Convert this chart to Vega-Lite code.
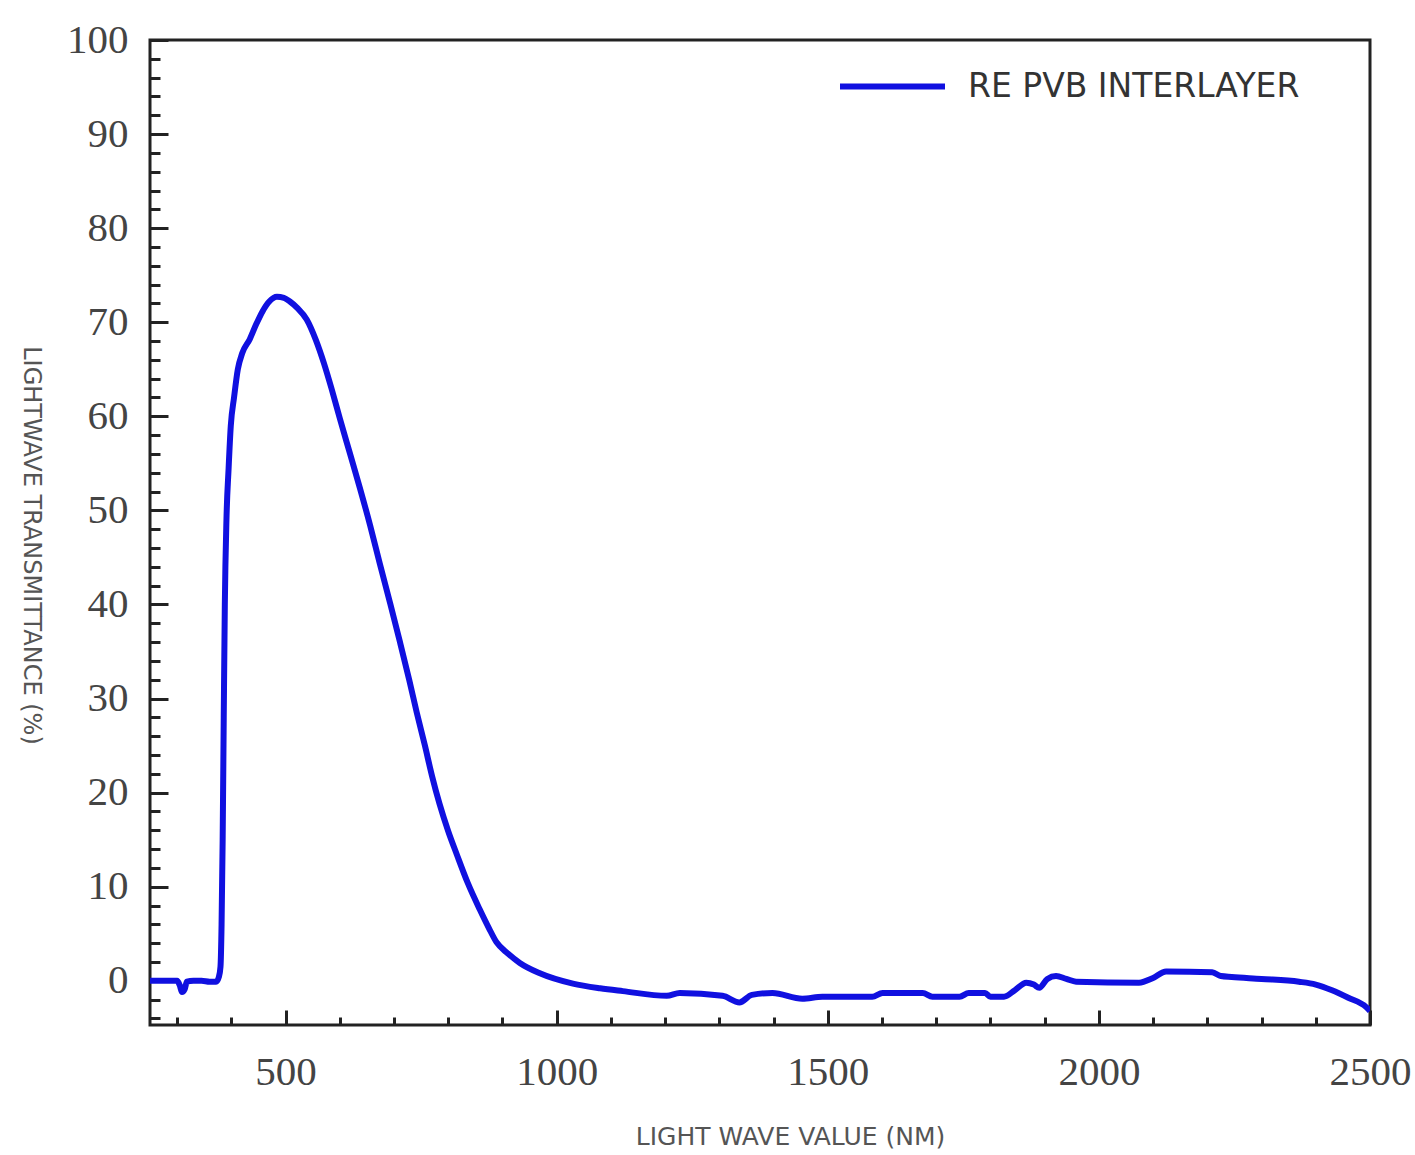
{
  "$schema": "https://vega.github.io/schema/vega-lite/v6.json",
  "autosize": "none",
  "width": 1220,
  "height": 985,
  "padding": {"left": 150, "top": 40, "right": 45, "bottom": 130},
  "background": "white",
  "config": {
    "view": {"stroke": "#222", "strokeWidth": 3},
    "axis": {"domain": false, "grid": false}
  },
  "data": {"values": [
    {"nm": 250, "t": 0, "s": "RE PVB INTERLAYER"},
    {"nm": 290, "t": 0, "s": "RE PVB INTERLAYER"},
    {"nm": 300, "t": 0, "s": "RE PVB INTERLAYER"},
    {"nm": 305, "t": -0.5, "s": "RE PVB INTERLAYER"},
    {"nm": 309, "t": -1.2, "s": "RE PVB INTERLAYER"},
    {"nm": 314, "t": -0.9, "s": "RE PVB INTERLAYER"},
    {"nm": 318, "t": -0.1, "s": "RE PVB INTERLAYER"},
    {"nm": 330, "t": 0, "s": "RE PVB INTERLAYER"},
    {"nm": 345, "t": 0, "s": "RE PVB INTERLAYER"},
    {"nm": 360, "t": -0.1, "s": "RE PVB INTERLAYER"},
    {"nm": 372, "t": -0.1, "s": "RE PVB INTERLAYER"},
    {"nm": 377, "t": 0.4, "s": "RE PVB INTERLAYER"},
    {"nm": 380, "t": 1.5, "s": "RE PVB INTERLAYER"},
    {"nm": 382, "t": 6, "s": "RE PVB INTERLAYER"},
    {"nm": 384, "t": 15, "s": "RE PVB INTERLAYER"},
    {"nm": 386, "t": 28, "s": "RE PVB INTERLAYER"},
    {"nm": 388, "t": 40, "s": "RE PVB INTERLAYER"},
    {"nm": 391, "t": 49, "s": "RE PVB INTERLAYER"},
    {"nm": 395, "t": 54.5, "s": "RE PVB INTERLAYER"},
    {"nm": 399, "t": 59, "s": "RE PVB INTERLAYER"},
    {"nm": 405, "t": 62, "s": "RE PVB INTERLAYER"},
    {"nm": 412, "t": 65, "s": "RE PVB INTERLAYER"},
    {"nm": 420, "t": 66.7, "s": "RE PVB INTERLAYER"},
    {"nm": 434, "t": 68.2, "s": "RE PVB INTERLAYER"},
    {"nm": 446, "t": 69.8, "s": "RE PVB INTERLAYER"},
    {"nm": 458, "t": 71.2, "s": "RE PVB INTERLAYER"},
    {"nm": 470, "t": 72.2, "s": "RE PVB INTERLAYER"},
    {"nm": 484, "t": 72.7, "s": "RE PVB INTERLAYER"},
    {"nm": 497, "t": 72.6, "s": "RE PVB INTERLAYER"},
    {"nm": 508, "t": 72.2, "s": "RE PVB INTERLAYER"},
    {"nm": 522, "t": 71.5, "s": "RE PVB INTERLAYER"},
    {"nm": 539, "t": 70.3, "s": "RE PVB INTERLAYER"},
    {"nm": 556, "t": 68.1, "s": "RE PVB INTERLAYER"},
    {"nm": 571, "t": 65.6, "s": "RE PVB INTERLAYER"},
    {"nm": 585, "t": 62.9, "s": "RE PVB INTERLAYER"},
    {"nm": 600, "t": 59.8, "s": "RE PVB INTERLAYER"},
    {"nm": 619, "t": 56.0, "s": "RE PVB INTERLAYER"},
    {"nm": 637, "t": 52.4, "s": "RE PVB INTERLAYER"},
    {"nm": 656, "t": 48.4, "s": "RE PVB INTERLAYER"},
    {"nm": 674, "t": 44.3, "s": "RE PVB INTERLAYER"},
    {"nm": 693, "t": 40.1, "s": "RE PVB INTERLAYER"},
    {"nm": 711, "t": 36.0, "s": "RE PVB INTERLAYER"},
    {"nm": 728, "t": 32.0, "s": "RE PVB INTERLAYER"},
    {"nm": 742, "t": 28.5, "s": "RE PVB INTERLAYER"},
    {"nm": 757, "t": 25.0, "s": "RE PVB INTERLAYER"},
    {"nm": 770, "t": 21.8, "s": "RE PVB INTERLAYER"},
    {"nm": 784, "t": 18.8, "s": "RE PVB INTERLAYER"},
    {"nm": 800, "t": 15.9, "s": "RE PVB INTERLAYER"},
    {"nm": 816, "t": 13.4, "s": "RE PVB INTERLAYER"},
    {"nm": 836, "t": 10.4, "s": "RE PVB INTERLAYER"},
    {"nm": 858, "t": 7.6, "s": "RE PVB INTERLAYER"},
    {"nm": 875, "t": 5.6, "s": "RE PVB INTERLAYER"},
    {"nm": 889, "t": 4.1, "s": "RE PVB INTERLAYER"},
    {"nm": 910, "t": 2.9, "s": "RE PVB INTERLAYER"},
    {"nm": 932, "t": 1.9, "s": "RE PVB INTERLAYER"},
    {"nm": 969, "t": 0.8, "s": "RE PVB INTERLAYER"},
    {"nm": 1030, "t": -0.3, "s": "RE PVB INTERLAYER"},
    {"nm": 1080, "t": -0.8, "s": "RE PVB INTERLAYER"},
    {"nm": 1122, "t": -1.1, "s": "RE PVB INTERLAYER"},
    {"nm": 1203, "t": -1.6, "s": "RE PVB INTERLAYER"},
    {"nm": 1227, "t": -1.3, "s": "RE PVB INTERLAYER"},
    {"nm": 1306, "t": -1.6, "s": "RE PVB INTERLAYER"},
    {"nm": 1337, "t": -2.3, "s": "RE PVB INTERLAYER"},
    {"nm": 1360, "t": -1.5, "s": "RE PVB INTERLAYER"},
    {"nm": 1398, "t": -1.3, "s": "RE PVB INTERLAYER"},
    {"nm": 1453, "t": -1.9, "s": "RE PVB INTERLAYER"},
    {"nm": 1490, "t": -1.7, "s": "RE PVB INTERLAYER"},
    {"nm": 1582, "t": -1.7, "s": "RE PVB INTERLAYER"},
    {"nm": 1601, "t": -1.3, "s": "RE PVB INTERLAYER"},
    {"nm": 1675, "t": -1.3, "s": "RE PVB INTERLAYER"},
    {"nm": 1693, "t": -1.7, "s": "RE PVB INTERLAYER"},
    {"nm": 1743, "t": -1.7, "s": "RE PVB INTERLAYER"},
    {"nm": 1760, "t": -1.3, "s": "RE PVB INTERLAYER"},
    {"nm": 1790, "t": -1.3, "s": "RE PVB INTERLAYER"},
    {"nm": 1800, "t": -1.7, "s": "RE PVB INTERLAYER"},
    {"nm": 1825, "t": -1.7, "s": "RE PVB INTERLAYER"},
    {"nm": 1845, "t": -1.0, "s": "RE PVB INTERLAYER"},
    {"nm": 1866, "t": -0.2, "s": "RE PVB INTERLAYER"},
    {"nm": 1880, "t": -0.4, "s": "RE PVB INTERLAYER"},
    {"nm": 1890, "t": -0.75, "s": "RE PVB INTERLAYER"},
    {"nm": 1905, "t": 0.2, "s": "RE PVB INTERLAYER"},
    {"nm": 1921, "t": 0.5, "s": "RE PVB INTERLAYER"},
    {"nm": 1940, "t": 0.2, "s": "RE PVB INTERLAYER"},
    {"nm": 1958, "t": -0.1, "s": "RE PVB INTERLAYER"},
    {"nm": 2074, "t": -0.2, "s": "RE PVB INTERLAYER"},
    {"nm": 2100, "t": 0.3, "s": "RE PVB INTERLAYER"},
    {"nm": 2124, "t": 1.0, "s": "RE PVB INTERLAYER"},
    {"nm": 2209, "t": 0.9, "s": "RE PVB INTERLAYER"},
    {"nm": 2225, "t": 0.5, "s": "RE PVB INTERLAYER"},
    {"nm": 2245, "t": 0.4, "s": "RE PVB INTERLAYER"},
    {"nm": 2300, "t": 0.2, "s": "RE PVB INTERLAYER"},
    {"nm": 2369, "t": -0.1, "s": "RE PVB INTERLAYER"},
    {"nm": 2400, "t": -0.4, "s": "RE PVB INTERLAYER"},
    {"nm": 2430, "t": -1.0, "s": "RE PVB INTERLAYER"},
    {"nm": 2460, "t": -1.8, "s": "RE PVB INTERLAYER"},
    {"nm": 2493, "t": -2.8, "s": "RE PVB INTERLAYER"},
    {"nm": 2500, "t": -3.2, "s": "RE PVB INTERLAYER"}
  ]},
  "mark": {"type": "line", "strokeWidth": 6, "clip": true, "interpolate": "monotone"},
  "encoding": {
    "x": {
      "field": "nm", "type": "quantitative",
      "scale": {"domain": [250, 2500], "nice": false, "zero": false},
      "axis": {
        "title": "LIGHT WAVE VALUE (NM)",
        "titleX": 640,
        "values": [300,400,500,600,700,800,900,1000,1100,1200,1300,1400,1500,1600,1700,1800,1900,2000,2100,2200,2300,2400,2500],
        "labelExpr": "datum.value % 500 === 0 ? datum.value : ''",
        "tickSize": {"condition": {"test": "datum.value % 500 === 0", "value": -15}, "value": -8},
        "tickColor": "#222", "tickWidth": 3,
        "labelPadding": 42,
        "labelFont": "Liberation Serif", "labelFontSize": 41, "labelColor": "#444",
        "labelFlush": false,
        "titleFont": "DejaVu Sans", "titleFontSize": 25, "titleFontWeight": "normal",
        "titleColor": "#555", "titlePadding": 32
      }
    },
    "y": {
      "field": "t", "type": "quantitative",
      "scale": {"domain": [-4.7, 100], "nice": false, "zero": false},
      "axis": {
        "title": "LIGHTWAVE TRANSMITTANCE (%)",
        "values": [-4,-2,0,2,4,6,8,10,12,14,16,18,20,22,24,26,28,30,32,34,36,38,40,42,44,46,48,50,52,54,56,58,60,62,64,66,68,70,72,74,76,78,80,82,84,86,88,90,92,94,96,98,100],
        "labelExpr": "datum.value % 10 === 0 ? datum.value : ''",
        "tickSize": {"condition": {"test": "datum.value % 10 === 0", "value": -18}, "value": -10},
        "tickColor": "#222", "tickWidth": 3,
        "labelPadding": 40,
        "labelFont": "Liberation Serif", "labelFontSize": 41, "labelColor": "#444",
        "labelFlush": false,
        "titleFont": "DejaVu Sans", "titleFontSize": 24, "titleFontWeight": "normal",
        "titleColor": "#555", "titleAngle": 90, "titleBaseline": "top", "titlePadding": 24,
        "titleY": 505
      }
    },
    "color": {
      "field": "s", "type": "nominal",
      "scale": {"range": ["#1010e0"]},
      "legend": {
        "title": null, "orient": "none", "legendX": 687, "legendY": -9,
        "symbolType": "stroke", "symbolSize": 11025, "symbolStrokeWidth": 6,
        "labelFont": "DejaVu Sans", "labelFontSize": 33, "labelColor": "#333",
        "labelOffset": 20, "labelLimit": 600
      }
    }
  }
}
